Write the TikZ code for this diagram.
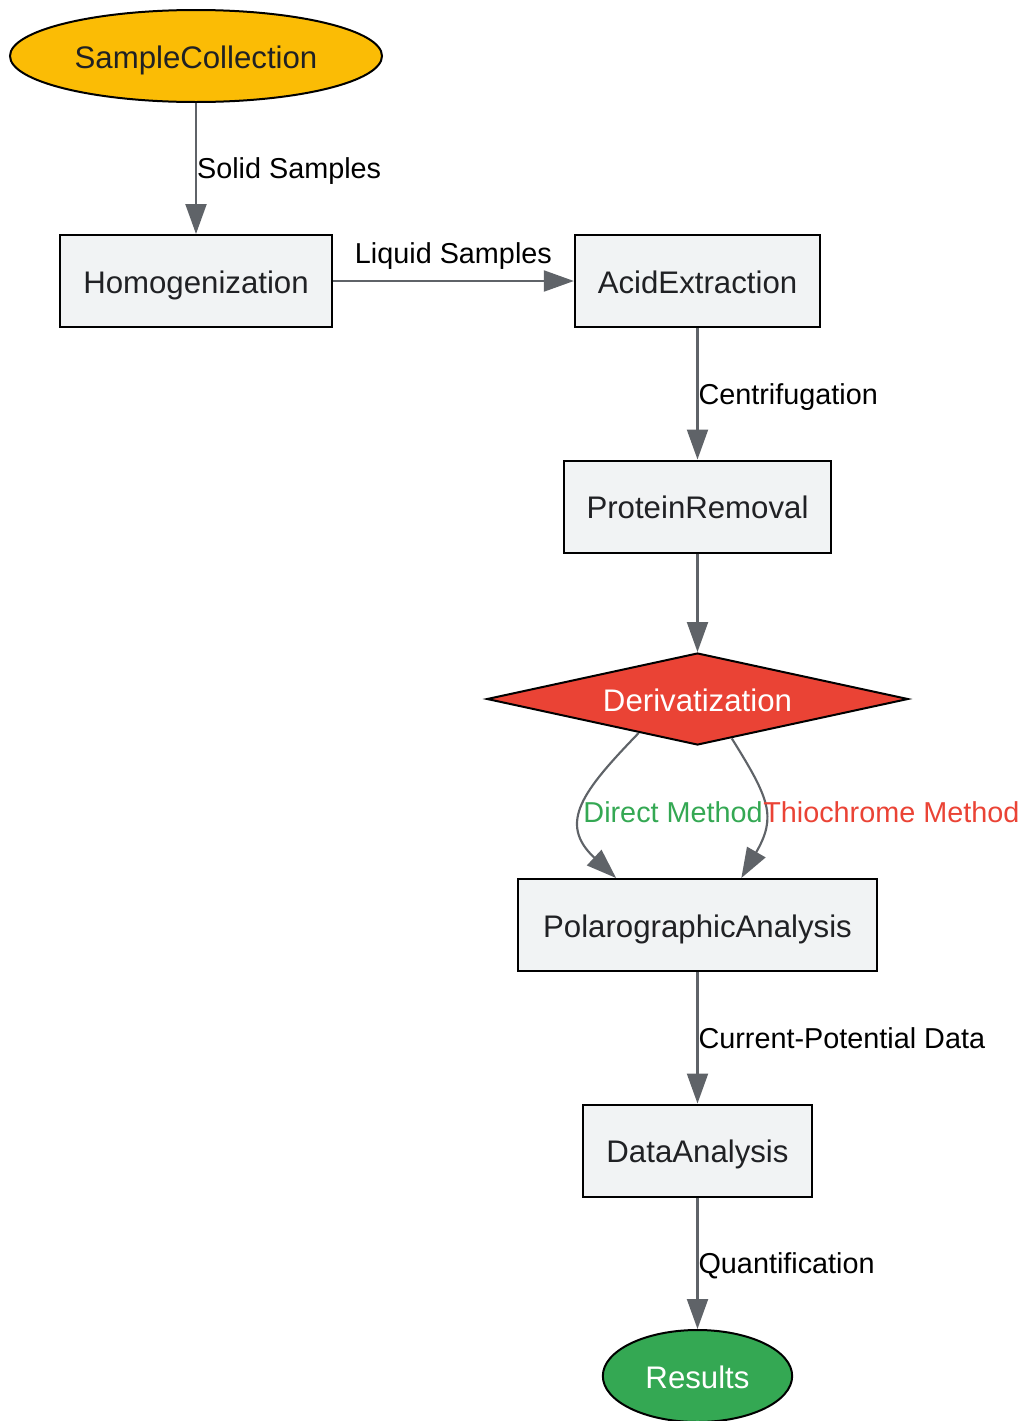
\documentclass[tikz,border=0pt]{standalone}
\usepackage{fontspec}
\setmainfont{Liberation Sans}
\usetikzlibrary{shapes.geometric,arrows.meta}
\definecolor{startyellow}{HTML}{FBBC05}
\definecolor{derivred}{HTML}{EA4335}
\definecolor{resultgreen}{HTML}{34A853}
\definecolor{boxgray}{HTML}{F1F3F4}
\definecolor{boxtext}{HTML}{202124}
\definecolor{edgegray}{HTML}{5F6368}

\begin{document}
\begin{tikzpicture}[x=0.75pt, y=-0.75pt,
        stepbox/.style = {draw, rectangle, line width=1.5pt, fill=boxgray, text=boxtext, inner sep=0pt, minimum height=69pt, text height=18.5pt, text depth=0pt, font=\fontsize{23.4}{28}\selectfont},
        endpoint/.style = {draw, ellipse, line width=1.5pt, inner sep=0pt, minimum height=69pt, text height=18.5pt, text depth=0pt, font=\fontsize{23.4}{28}\selectfont},
        choice/.style = {draw, diamond, line width=1.5pt, fill=derivred, text=white, inner sep=0pt, aspect=4.5, minimum width=316pt, minimum height=69pt, text height=18.5pt, text depth=0pt, font=\fontsize{23.4}{28}\selectfont},
        flow/.style = {draw=edgegray, line width=1.6pt, -{Triangle[length=22.5pt, width=15.75pt]}},
        lbl/.style = {inner sep=0pt, text height=15.5pt, text depth=0pt, font=\fontsize{21.6}{26}\selectfont},
        ]
        \useasboundingbox (0,0) rectangle (1022,1421);
        \node[endpoint, fill=startyellow, text=boxtext, minimum width=279pt](sample) at (196,56) {SampleCollection};
        \node[stepbox, minimum width=204pt](homog) at (196,281) {Homogenization};
        \node[stepbox, minimum width=184pt](acid) at (697.5,281) {AcidExtraction};
        \node[stepbox, minimum width=200pt](protein) at (697.5,506.5) {ProteinRemoval};
        \node[choice](deriv) at (697.5,699) {Derivatization};
        \node[stepbox, minimum width=269pt](polar) at (697.5,925) {PolarographicAnalysis};
        \node[stepbox, minimum width=172pt](data) at (697.5,1150.5) {DataAnalysis};
        \node[endpoint, fill=resultgreen, text=white, minimum width=142pt](results) at (697.5,1376) {Results};

        \draw[flow] (sample) -- node[lbl, right](lsolid) {Solid Samples} (homog);
        \draw[flow] (homog) -- node[lbl, above=12.4pt](lliquid) {Liquid Samples} (acid);
        \draw[flow] (acid) -- node[lbl, right](lcentri) {Centrifugation} (protein);
        \draw[flow] (protein) -- (deriv);
        \draw[flow] (deriv.210.8) to[out=226, in=137, looseness=1.4] (polar.150);
        \draw[flow] (deriv.-49.9) to[out=-58, in=60, looseness=1.3] (polar.47.9);
        \node[lbl, text=resultgreen, anchor=east](ldirect) at (763,812) {Direct Method};
        \node[lbl, text=derivred, anchor=west](lthio) at (763,812) {Thiochrome Method};
        \draw[flow] (polar) -- node[lbl, right](lcurrent) {Current-Potential Data} (data);
        \draw[flow] (data) -- node[lbl, right](lquant) {Quantification} (results);
\end{tikzpicture}
\end{document}
